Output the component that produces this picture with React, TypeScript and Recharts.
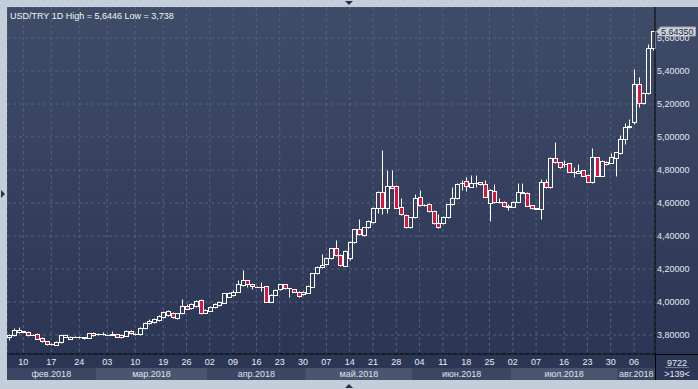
import React from 'react';
import { ComposedChart, Bar, XAxis, YAxis, CartesianGrid, ReferenceLine } from 'recharts';

// USD/TRY daily candles, one entry per bar (139 bars, Feb–Aug 2018)
const OPEN = [
  3.785, 3.8, 3.818, 3.822, 3.818, 3.802, 3.804, 3.782, 3.764, 3.746,
  3.742, 3.756, 3.79, 3.778, 3.79, 3.79, 3.786, 3.784, 3.81, 3.806,
  3.806, 3.803, 3.803, 3.804, 3.788, 3.795, 3.824, 3.806, 3.806, 3.841,
  3.871, 3.876, 3.891, 3.911, 3.921, 3.935, 3.901, 3.931, 3.976, 3.962,
  3.976, 4.012, 3.935, 3.948, 3.968, 3.982, 3.996, 4.032, 4.043, 4.063,
  4.103, 4.131, 4.107, 4.094, 4.094, 4.097, 4.002, 4.043, 4.077, 4.107,
  4.084, 4.077, 4.063, 4.049, 4.057, 4.093, 4.174, 4.21, 4.23, 4.265,
  4.325, 4.285, 4.22, 4.265, 4.366, 4.44, 4.406, 4.452, 4.487, 4.568,
  4.665, 4.568, 4.703, 4.703, 4.574, 4.527, 4.452, 4.513, 4.638, 4.589,
  4.594, 4.552, 4.477, 4.477, 4.517, 4.592, 4.628, 4.721, 4.731, 4.699,
  4.72, 4.725, 4.715, 4.602, 4.675, 4.609, 4.608, 4.579, 4.578, 4.608,
  4.664, 4.663, 4.586, 4.567, 4.566, 4.725, 4.695, 4.871, 4.847, 4.837,
  4.841, 4.791, 4.784, 4.798, 4.77, 4.729, 4.877, 4.766, 4.851, 4.845,
  4.875, 4.905, 4.986, 5.059, 5.093, 5.319, 5.208, 5.265, 5.537,
];
const HIGH = [
  3.806, 3.84, 3.847, 3.826, 3.824, 3.806, 3.81, 3.786, 3.766, 3.752,
  3.764, 3.803, 3.806, 3.794, 3.793, 3.794, 3.79, 3.812, 3.816, 3.81,
  3.818, 3.806, 3.826, 3.808, 3.804, 3.83, 3.83, 3.812, 3.846, 3.88,
  3.895, 3.902, 3.922, 3.945, 3.952, 3.94, 3.935, 4.016, 3.985, 3.995,
  4.012, 4.016, 3.956, 3.976, 3.992, 4.006, 4.057, 4.058, 4.07, 4.133,
  4.195, 4.135, 4.11, 4.098, 4.123, 4.1, 4.046, 4.077, 4.112, 4.111,
  4.088, 4.081, 4.067, 4.067, 4.101, 4.178, 4.216, 4.289, 4.272, 4.33,
  4.376, 4.29, 4.313, 4.37, 4.445, 4.503, 4.456, 4.496, 4.573, 4.67,
  4.921, 4.8, 4.8, 4.708, 4.628, 4.532, 4.517, 4.653, 4.679, 4.594,
  4.598, 4.556, 4.535, 4.522, 4.597, 4.697, 4.72, 4.739, 4.76, 4.77,
  4.77, 4.729, 4.739, 4.684, 4.715, 4.628, 4.612, 4.594, 4.612, 4.719,
  4.719, 4.667, 4.59, 4.57, 4.745, 4.746, 4.876, 4.968, 4.851, 4.861,
  4.845, 4.82, 4.834, 4.802, 4.774, 4.933, 4.881, 4.86, 4.855, 4.901,
  4.912, 5.012, 5.087, 5.107, 5.41, 5.366, 5.27, 5.564, 5.6446,
];
const LOW = [
  3.772, 3.797, 3.814, 3.818, 3.795, 3.798, 3.775, 3.76, 3.74, 3.738,
  3.739, 3.752, 3.786, 3.776, 3.786, 3.784, 3.774, 3.782, 3.796, 3.802,
  3.8, 3.799, 3.798, 3.786, 3.784, 3.792, 3.806, 3.803, 3.803, 3.838,
  3.866, 3.872, 3.887, 3.905, 3.918, 3.903, 3.895, 3.928, 3.955, 3.958,
  3.972, 3.93, 3.932, 3.944, 3.964, 3.978, 3.992, 4.028, 4.038, 4.058,
  4.1, 4.09, 4.08, 4.09, 4.069, 3.998, 3.998, 4.04, 4.073, 4.08,
  4.032, 4.058, 4.03, 4.044, 4.053, 4.09, 4.17, 4.207, 4.226, 4.26,
  4.28, 4.218, 4.216, 4.255, 4.36, 4.405, 4.4, 4.448, 4.48, 4.54,
  4.535, 4.54, 4.689, 4.568, 4.53, 4.446, 4.446, 4.508, 4.584, 4.584,
  4.548, 4.472, 4.446, 4.47, 4.512, 4.588, 4.622, 4.679, 4.675, 4.695,
  4.699, 4.709, 4.634, 4.493, 4.6, 4.598, 4.578, 4.558, 4.574, 4.604,
  4.66, 4.58, 4.564, 4.563, 4.505, 4.69, 4.69, 4.843, 4.815, 4.82,
  4.786, 4.76, 4.78, 4.762, 4.725, 4.724, 4.762, 4.762, 4.832, 4.84,
  4.766, 4.9, 4.958, 5.053, 5.079, 5.18, 5.203, 5.26, 5.53,
];
const CLOSE = [
  3.8, 3.83, 3.83, 3.821, 3.798, 3.801, 3.778, 3.764, 3.744, 3.747,
  3.76, 3.8, 3.8, 3.79, 3.789, 3.788, 3.783, 3.81, 3.798, 3.805,
  3.807, 3.802, 3.804, 3.79, 3.8, 3.826, 3.81, 3.808, 3.841, 3.875,
  3.887, 3.897, 3.917, 3.938, 3.948, 3.907, 3.931, 3.976, 3.96, 3.988,
  4.008, 3.935, 3.952, 3.972, 3.988, 4.002, 4.053, 4.053, 4.063, 4.107,
  4.131, 4.107, 4.095, 4.093, 4.093, 4.002, 4.043, 4.073, 4.107, 4.083,
  4.083, 4.063, 4.036, 4.063, 4.097, 4.174, 4.21, 4.224, 4.265, 4.325,
  4.285, 4.224, 4.309, 4.366, 4.44, 4.41, 4.452, 4.491, 4.568, 4.665,
  4.568, 4.703, 4.693, 4.572, 4.533, 4.452, 4.513, 4.628, 4.588, 4.588,
  4.552, 4.477, 4.452, 4.517, 4.592, 4.628, 4.715, 4.719, 4.703, 4.723,
  4.719, 4.713, 4.638, 4.679, 4.604, 4.607, 4.582, 4.577, 4.608, 4.665,
  4.663, 4.584, 4.568, 4.566, 4.725, 4.695, 4.871, 4.847, 4.82, 4.836,
  4.79, 4.79, 4.796, 4.766, 4.729, 4.877, 4.766, 4.855, 4.836, 4.877,
  4.907, 4.988, 5.059, 5.067, 5.319, 5.204, 5.265, 5.537, 5.6435,
];

const DAY_TICKS = [3, 9, 15, 21, 27, 33, 38, 43, 48, 53, 58, 63, 68, 73, 78, 83, 88, 93, 98, 103, 108, 113, 119, 124, 129, 134];
const DAY_LABELS = ['10', '17', '24', '03', '10', '19', '26', '02', '09', '16', '23', '30', '07', '14', '21', '28', '04', '11', '18', '25', '02', '07', '16', '23', '30', '06'];
const MONTH_STARTS = [0, 19, 43, 64, 87, 108, 131];
const MONTH_LABELS = ['фев.2018', 'мар.2018', 'апр.2018', 'май.2018', 'июн.2018', 'июл.2018', 'авг.2018'];
const PRICE_TICKS = [3.8, 4.0, 4.2, 4.4, 4.6, 4.8, 5.0, 5.2, 5.4, 5.6];
const LAST_PRICE = 5.6435;

const data = OPEN.map((o, i) => ({
  i,
  o,
  h: HIGH[i],
  l: LOW[i],
  c: CLOSE[i],
  range: [LOW[i], HIGH[i]],
}));

const PLOT_W = 648;
const BAND = PLOT_W / data.length;
const FONT = '"Liberation Sans", Arial, sans-serif';
const snap = (v: number) => Math.round(v) + 0.5;

function Candle(props: any) {
  const { x, y, width, height, payload } = props;
  if (x == null || y == null || !payload) return null;
  const top = Math.min(y, y + height);
  const bot = Math.max(y, y + height);
  const span = payload.h - payload.l;
  const toY = (v: number) => (span > 0 ? top + ((payload.h - v) / span) * (bot - top) : top);
  const cx = Math.round(x + width / 2) + 0.5;
  const yo = toY(payload.o);
  const yc = toY(payload.c);
  const bTop = snap(Math.min(yo, yc));
  const bBot = snap(Math.max(yo, yc));
  const up = payload.c >= payload.o;
  return (
    <g>
      <line x1={cx} x2={cx} y1={snap(top)} y2={bTop} stroke="#fff" />
      <line x1={cx} x2={cx} y1={bBot} y2={snap(bot)} stroke="#fff" />
      {bBot - bTop < 1 ? (
        <line x1={cx - 2.5} x2={cx + 2.5} y1={bTop} y2={bTop} stroke="#fff" />
      ) : (
        <rect x={cx - 2} y={bTop} width={4} height={bBot - bTop} fill={up ? 'none' : '#dc143c'} stroke="#fff" />
      )}
    </g>
  );
}

function MonthTick(props: any) {
  const { x, y, payload } = props;
  const k = MONTH_STARTS.indexOf(payload.value);
  if (k < 0) return null;
  const end = k + 1 < MONTH_STARTS.length ? MONTH_STARTS[k + 1] : data.length;
  const x0 = x - BAND / 2;
  const w = (end - MONTH_STARTS[k]) * BAND;
  return (
    <g>
      <rect x={x0} y={y} width={w} height={12} fill={k % 2 ? '#4a5670' : '#3a4662'} />
      <text x={x0 + w / 2} y={y + 9} textAnchor="middle" fill="#dde3ec" fontSize={9} fontFamily={FONT}>
        {MONTH_LABELS[k]}
      </text>
    </g>
  );
}

// last price marker on the right axis
function PriceTag(props: any) {
  const vb = props.viewBox;
  if (!vb) return null;
  const x = vb.x + vb.width + 1.5;
  const y = Math.round(vb.y) + 0.5;
  return (
    <g>
      <polygon
        points={`${x},${y} ${x + 4},${y - 4.5} ${x + 39},${y - 4.5} ${x + 39},${y + 4.5} ${x + 4},${y + 4.5}`}
        fill="#cdd1d8"
        stroke="#9ea5b1"
      />
      <text x={x + 4.5} y={y + 3.3} fill="#1e2636" fontSize={9} fontFamily={FONT}>
        {LAST_PRICE.toFixed(5).replace('.', ',')}
      </text>
    </g>
  );
}

export default function App() {
  return (
    <div
      style={{
        position: 'fixed',
        left: 0,
        top: 0,
        width: 698,
        height: 389,
        background: '#c4cedb',
        overflow: 'hidden',
        fontFamily: FONT,
      }}
    >
      <div
        style={{
          position: 'absolute',
          left: 7,
          top: 7,
          width: 691,
          height: 373,
          background: 'linear-gradient(to bottom, #3f4c67 0px, #2b3655 347px, #2d3856 373px)',
        }}
      >
        <ComposedChart width={691} height={373} data={data} margin={{ top: 0, right: 0, bottom: 0, left: 0 }}>
          <CartesianGrid xAxisId="d" yAxisId="p" stroke="#56627d" strokeDasharray="3 3" />
          <XAxis
            xAxisId="d"
            dataKey="i"
            type="category"
            height={14}
            ticks={DAY_TICKS}
            interval={0}
            tickFormatter={(v: number) => DAY_LABELS[DAY_TICKS.indexOf(v)] ?? ''}
            axisLine={{ stroke: '#000' }}
            tickLine={false}
            tickSize={0}
            tickMargin={5}
            tick={{ fill: '#e6ebf3', fontSize: 9, fontFamily: FONT }}
          />
          <XAxis
            xAxisId="m"
            dataKey="i"
            type="category"
            height={12}
            ticks={MONTH_STARTS}
            interval={0}
            axisLine={false}
            tickLine={false}
            tickSize={0}
            tickMargin={0}
            tick={(p: any) => <MonthTick {...p} />}
          />
          <YAxis
            yAxisId="p"
            orientation="right"
            type="number"
            width={43}
            domain={[3.685, 5.788]}
            allowDataOverflow
            ticks={PRICE_TICKS}
            interval={0}
            tickFormatter={(v: number) => v.toFixed(5).replace('.', ',')}
            axisLine={{ stroke: '#000' }}
            tickLine={false}
            tickSize={0}
            tickMargin={2}
            tick={{ fill: '#e3e8f1', fontSize: 9, fontFamily: FONT }}
          />
          <Bar
            xAxisId="d"
            yAxisId="p"
            dataKey="range"
            isAnimationActive={false}
            shape={(p: any) => <Candle {...p} />}
          />
          <ReferenceLine
            xAxisId="d"
            yAxisId="p"
            y={LAST_PRICE}
            stroke="none"
            ifOverflow="visible"
            label={(p: any) => <PriceTag {...p} />}
          />
        </ComposedChart>
      </div>
      <svg width={698} height={389} style={{ position: 'absolute', left: 0, top: 0, pointerEvents: 'none' }}>
        <text x={10} y={18.5} fill="#f2f4f8" fontSize={9} fontFamily={FONT}>
          USD/TRY 1D High = 5,6446 Low = 3,738
        </text>
        <polygon points="345,1 353,1 349,5" fill="#26324d" />
        <polygon points="345,388 353,388 349,384" fill="#26324d" />
        <polygon points="1,190 1,198 5,194" fill="#26324d" />
        <line x1={655} x2={698} y1={354.5} y2={354.5} stroke="#000" />
        <line x1={655.5} x2={655.5} y1={354} y2={380} stroke="#000" />
        <text x={677} y={366} textAnchor="middle" fill="#e6ebf3" fontSize={9} fontFamily={FONT}>
          9722
        </text>
        <line x1={665} x2={689} y1={367.5} y2={367.5} stroke="#6f7a90" />
        <text x={677} y={377} textAnchor="middle" fill="#e6ebf3" fontSize={9} fontFamily={FONT}>
          {'>139<'}
        </text>
      </svg>
    </div>
  );
}
